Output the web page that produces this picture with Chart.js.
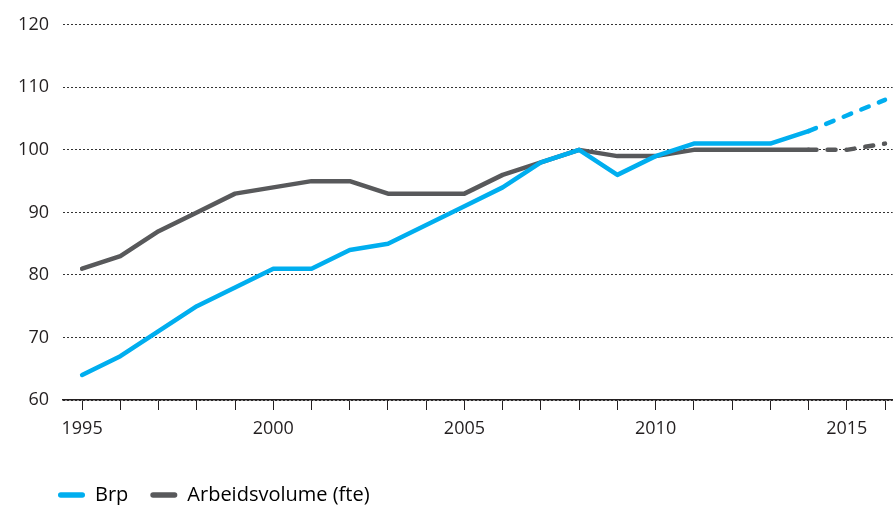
<!DOCTYPE html>
<html lang="nl">
<head>
  <meta charset="UTF-8">
  <title>Brp en arbeidsvolume</title>
  <script src="https://cdn.jsdelivr.net/npm/chart.js"></script>
  <style>
    html, body {
      margin: 0;
      padding: 0;
      background: #fff;
    }
  </style>
</head>
<body>
  <canvas id="chart" width="893" height="505"></canvas>

  <script>
    // data (index, 2008 = 100)
    const years = [1995, 1996, 1997, 1998, 1999, 2000, 2001, 2002, 2003, 2004, 2005,
                   2006, 2007, 2008, 2009, 2010, 2011, 2012, 2013, 2014, 2015, 2016];
    const brp = [64, 67, 71, 75, 78, 81, 81, 84, 85, 88, 91,
                 94, 98, 100, 96, 99, 101, 101, 101, 103, 105.5, 108];
    const arbeidsvolume = [81, 83, 87, 90, 93, 94, 95, 95, 93, 93, 93,
                           96, 98, 100, 99, 99, 100, 100, 100, 100, 100, 101];
    const xLabels = [1995, 2000, 2005, 2010, 2015];
    const yTicks = [60, 70, 80, 90, 100, 110, 120];
    const forecastFrom = 2014;

    const textColor = '#231f20';
    const font = { family: '"Open Sans", Lato, sans-serif', size: 18 };
    const legendFont = { family: '"Open Sans", Lato, sans-serif', size: 20 };

    const toPoints = values => years.map((y, i) => ({ x: y, y: values[i] }));
    const dashed = ctx => ctx.p0.parsed.x >= forecastFrom ? [8, 11] : undefined;

    const lineSet = (label, values, color) => ({
      label: label,
      data: toPoints(values),
      borderColor: color,
      backgroundColor: color,
      borderWidth: 4.5,
      borderCapStyle: 'round',
      borderJoinStyle: 'round',
      pointRadius: 0,
      tension: 0,
      segment: { borderDash: dashed }
    });

    // the legend starts a bit to the right of the plot's left edge
    const legendIndent = {
      id: 'legendIndent',
      afterLayout(chart) {
        chart.legend.left += 36;
      }
    };

    new Chart(document.getElementById('chart').getContext('2d'), {
      type: 'line',
      data: {
        datasets: [
          lineSet('Brp', brp, '#00aeef'),
          lineSet('Arbeidsvolume (fte)', arbeidsvolume, '#58595b')
        ]
      },
      plugins: [legendIndent],
      options: {
        responsive: false,
        animation: false,
        layout: { padding: { top: 8, left: 0, right: 0, bottom: -10 } },
        plugins: {
          tooltip: { enabled: false },
          legend: {
            position: 'bottom',
            align: 'start',
            labels: {
              color: textColor,
              font: legendFont,
              boxWidth: 27,
              boxHeight: 5.5,
              padding: 22,
              useBorderRadius: true,
              borderRadius: 2.75,
              generateLabels: chart => chart.data.datasets.map((ds, i) => ({
                text: ds.label,
                fillStyle: ds.borderColor,
                strokeStyle: ds.borderColor,
                lineWidth: 0,
                borderRadius: 2.75,
                datasetIndex: i,
                hidden: false
              }))
            }
          }
        },
        scales: {
          x: {
            type: 'linear',
            min: 1994.5,
            max: 2016.2,
            afterBuildTicks: s => { s.ticks = years.map(v => ({ value: v })); },
            afterFit: s => { s.height = 63; },
            grid: { drawOnChartArea: false, drawTicks: true, tickLength: 10, color: textColor, lineWidth: 1 },
            border: { display: true, color: textColor, width: 1.5 },
            ticks: {
              color: textColor,
              font: font,
              padding: 8,
              autoSkip: false,
              maxRotation: 0,
              callback: v => xLabels.includes(v) ? String(v) : ''
            }
          },
          y: {
            min: yTicks[0],
            max: yTicks[yTicks.length - 1],
            afterBuildTicks: s => { s.ticks = yTicks.map(v => ({ value: v })); },
            afterFit: s => { s.width = 63; },
            grid: { color: '#333', lineWidth: 1, drawTicks: false },
            border: { display: false, dash: [2, 2] },
            ticks: { color: textColor, font: font, padding: 14 }
          }
        }
      }
    });
  </script>
</body>
</html>
